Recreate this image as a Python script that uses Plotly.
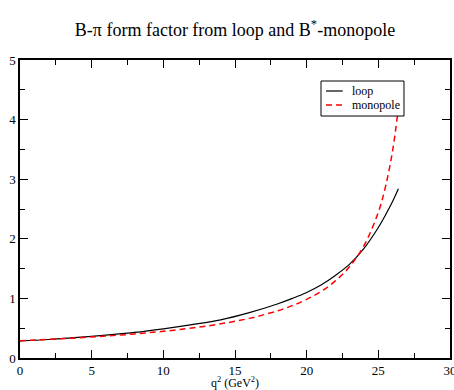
import plotly.graph_objects as go

# q^2 grid (GeV^2) and the two form factor curves
q2 = [0, 2, 4, 6, 8, 10, 12, 14, 16, 18, 19, 20, 21, 22, 23, 24, 25, 25.5, 26, 26.4]
loop = [0.285, 0.31, 0.345, 0.385, 0.43, 0.49, 0.56, 0.64, 0.76, 0.91, 1.00, 1.10,
        1.225, 1.385, 1.575, 1.84, 2.19, 2.40, 2.63, 2.84]
monopole = [0.29, 0.312, 0.338, 0.368, 0.404, 0.448, 0.503, 0.573, 0.665, 0.794, 0.879,
            0.984, 1.117, 1.293, 1.534, 1.887, 2.447, 2.876, 3.486, 4.20]

font = "Liberation Serif"
red_dash = "6px,4px"

fig = go.Figure()
fig.add_trace(go.Scatter(x=q2, y=loop, mode="lines", name="loop",
                         line=dict(color="black", width=1.2, shape="spline")))
fig.add_trace(go.Scatter(x=q2, y=monopole, mode="lines", name="monopole",
                         line=dict(color="red", width=1.5, dash=red_dash, shape="spline")))

axis = dict(showline=True, linecolor="black", linewidth=1.5, mirror="ticks",
            ticks="inside", ticklen=8, tickwidth=1, tickcolor="black",
            showgrid=False, zeroline=False, automargin=False,
            ticklabeloverflow="allow",
            tickfont=dict(family=font, size=13, color="black"))

fig.update_xaxes(range=[0, 30], dtick=5,
                 minor=dict(ticks="inside", ticklen=5, dtick=2.5, tickcolor="black"),
                 **axis)
fig.update_yaxes(range=[0, 5], dtick=1,
                 minor=dict(ticks="inside", ticklen=5, dtick=0.5, tickcolor="black"),
                 **axis)

# x axis title placed just under the tick labels
fig.add_annotation(text="q<sup>2</sup> (GeV<sup>2</sup>)", x=0.5, y=0,
                   xref="paper", yref="paper", xanchor="center", yanchor="top",
                   yshift=-15, showarrow=False,
                   font=dict(family=font, size=12, color="black"))

# legend box drawn by hand (xmgrace style, compact rows)
fig.add_shape(type="rect", xref="paper", yref="paper", x0=0.700, x1=0.893, y0=0.812, y1=0.9295,
              fillcolor="white", line=dict(color="black", width=1), layer="above")
rows = [("loop", "black", "solid", 1.2, 0.896), ("monopole", "red", red_dash, 1.5, 0.849)]
for label, col, dash, w, yy in rows:
    fig.add_shape(type="line", xref="paper", yref="paper", x0=0.7116, x1=0.7505, y0=yy, y1=yy,
                  line=dict(color=col, width=w, dash=dash), layer="above")
    fig.add_annotation(text=label, x=0.768, y=yy, xref="paper", yref="paper",
                       xanchor="left", yanchor="middle", showarrow=False,
                       font=dict(family=font, size=12, color="black"))

fig.update_layout(
    width=454, height=390,
    margin=dict(l=20, r=4, t=60, b=32),
    paper_bgcolor="white", plot_bgcolor="white",
    title=dict(text="B-π form factor from loop and B<sup>*</sup>-monopole",
               xref="paper", x=0.5, xanchor="center", y=0.925, yanchor="middle",
               font=dict(family=font, size=18, color="black")),
    showlegend=False,
)

# page body has a default 8px margin; drop it so the figure sits at the window corner
fig.write_html("out.html", config={"displayModeBar": False},
               post_script="document.body.style.margin='0';")
